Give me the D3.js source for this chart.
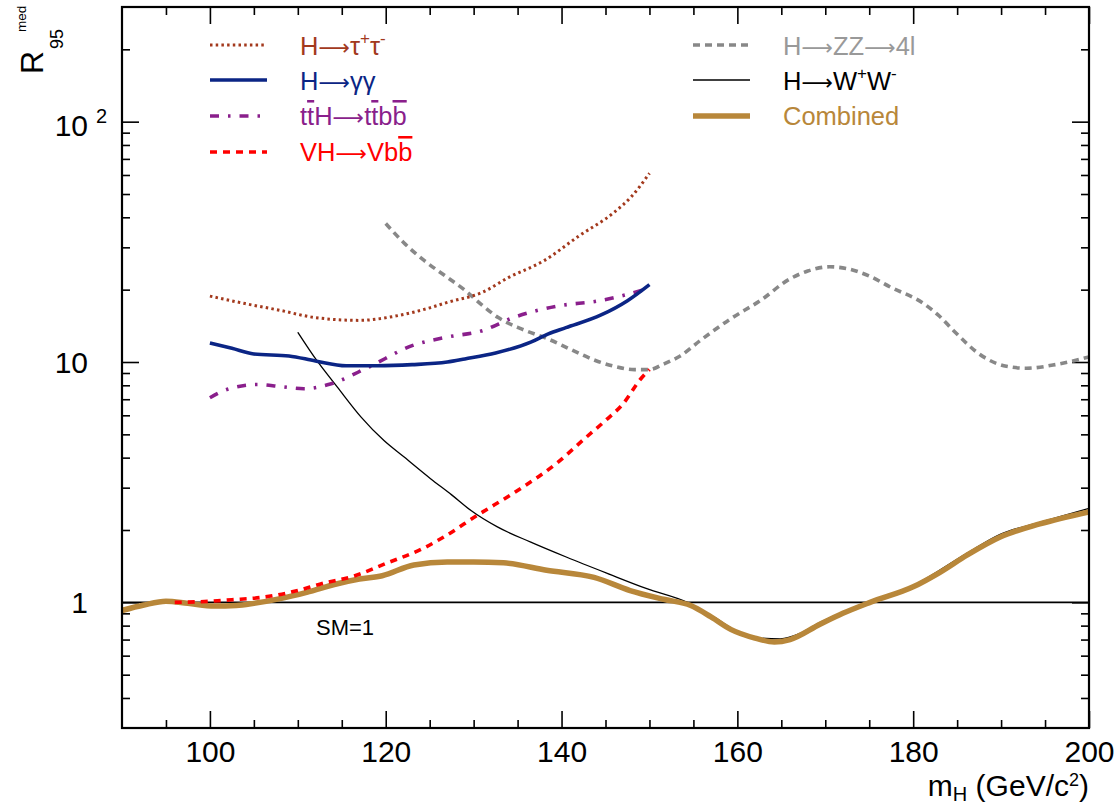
<!DOCTYPE html>
<html>
<head>
<meta charset="utf-8">
<script src="https://cdn.jsdelivr.net/npm/d3@7"></script>
<style>
  html, body { margin: 0; padding: 0; background: #fff; }
  svg { display: block; }
</style>
</head>
<body>
<svg id="chart" width="1119" height="806"></svg>
<script>
// ---------------- DATA ----------------
const tautauM = [100, 104, 108, 112, 117, 121, 125, 127, 131, 134, 138, 142, 146, 148, 150];
const tautauR = [18.8, 17.5, 16.4, 15.3, 14.9, 15.5, 16.8, 17.7, 19.5, 22.5, 26.4, 33.5, 42, 49, 61];

const gagaM = [100, 102.5, 105, 109, 112, 115.5, 119, 123, 127, 129, 132.5, 136.5, 138.5, 140.5, 144.5, 147.5, 150];
const gagaR = [12.0, 11.4, 10.8, 10.6, 10.1, 9.65, 9.65, 9.75, 10.0, 10.3, 10.9, 12.1, 13.1, 13.9, 15.7, 18.0, 21.0];

const tthM = [100, 102, 105.5, 108, 110.7, 113.7, 118, 123, 127, 131, 134.5, 137, 140, 144, 147, 150];
const tthR = [7.1, 7.7, 8.06, 7.9, 7.74, 8.1, 9.5, 11.7, 12.7, 13.5, 15.3, 16.3, 17.2, 17.9, 18.9, 20.3];

const vhM = [96, 100, 102.5, 106, 110, 112.5, 116.5, 120, 124.3, 126.6, 130.4, 135, 139.6, 142.6, 145, 147, 149, 150];
const vhR = [1.0, 1.01, 1.025, 1.05, 1.12, 1.19, 1.29, 1.45, 1.68, 1.87, 2.30, 2.92, 3.83, 4.79, 5.71, 6.7, 8.5, 9.3];

const zzM = [120, 122, 124.4, 127, 129, 131, 132.8, 135.5, 138.4, 141, 144, 146, 148.3, 150, 151.6, 153.5, 155.8, 159.2, 162.6, 166, 168, 170.5, 172.4, 175, 177.4, 181.2, 183, 184.6, 188, 190.6, 192.9, 196.3, 200];
const zzR = [37.7, 31.5, 26.4, 22.5, 19.9, 17.2, 15.3, 13.7, 12.5, 11.3, 10.1, 9.6, 9.3, 9.3, 9.8, 10.6, 12.3, 15.1, 18.0, 22.2, 23.9, 24.9, 24.5, 22.8, 20.5, 17.5, 15.5, 13.5, 10.5, 9.6, 9.42, 9.77, 10.5];

const wwM = [110, 112.2, 114.5, 117.2, 119.8, 122.1, 125.1, 127.5, 129.7, 132.7, 136.5, 140.6, 145.2, 149.7, 154.3, 157.3, 160.4, 162.5, 164.9, 167.2, 169.4, 175.1, 180, 186.1, 189.9, 194.4, 200];
const wwR = [13.3, 10.1, 7.86, 5.9, 4.71, 4.02, 3.27, 2.8, 2.41, 2.06, 1.78, 1.54, 1.32, 1.14, 1.0, 0.87, 0.745, 0.71, 0.705, 0.745, 0.825, 1.01, 1.175, 1.6, 1.92, 2.15, 2.46];

const combM = [90, 92.5, 95, 97.5, 100.5, 103, 105, 108, 111, 114.5, 117, 119.6, 123.2, 127, 130, 133.4, 138.3, 143.7, 147.8, 151.6, 154.7, 157, 159.3, 162, 164.2, 166, 169.4, 172, 175.1, 180, 183, 186.1, 189.9, 194.4, 200];
const combR = [0.925, 0.975, 1.01, 0.99, 0.965, 0.97, 0.99, 1.036, 1.10, 1.195, 1.25, 1.29, 1.43, 1.47, 1.47, 1.46, 1.36, 1.27, 1.12, 1.03, 0.97, 0.87, 0.77, 0.71, 0.684, 0.70, 0.81, 0.90, 1.0, 1.16, 1.33, 1.57, 1.87, 2.12, 2.38];

const xMajorTicks = [100, 120, 140, 160, 180, 200];
const xMinorTicks = [95, 105, 110, 115, 125, 130, 135, 145, 150, 155, 165, 170, 175, 185, 190, 195];
const yMajorTicks = [1, 10, 100];
const yMinorTicks = [0.4, 0.5, 0.6, 0.7, 0.8, 0.9, 2, 3, 4, 5, 6, 7, 8, 9, 20, 30, 40, 50, 60, 70, 80, 90, 200];
const smLevel = 1;

// ---------------- LAYOUT ----------------
const FONT = "'Liberation Sans', Arial, Helvetica, sans-serif";
const ARROWFONT = "'DejaVu Sans', sans-serif";
const L = 122, R = 1089, T = 7, B = 728;

const svg = d3.select("#chart");
const x = d3.scaleLinear().domain([90, 200]).range([L, R]);
const y = d3.scaleLog().domain([0.3, 300]).range([B, T]);

svg.append("defs").append("clipPath").attr("id", "clip")
  .append("rect").attr("x", L).attr("y", T).attr("width", R - L).attr("height", B - T);

const line = d3.line().x(d => x(d[0])).y(d => y(d[1])).curve(d3.curveMonotoneX);
const zip = (a, b) => a.map((v, i) => [v, b[i]]);

// ---------------- AXES (ticks inward on all sides) ----------------
function styleAxis(g, w) {
  g.select(".domain").remove();
  g.selectAll(".tick line").attr("stroke", "#000").attr("stroke-width", w);
}
const noLabel = () => "";
svg.append("g").attr("transform", `translate(0,${B})`)
  .call(d3.axisBottom(x).tickValues(xMinorTicks).tickSize(-8).tickFormat(noLabel))
  .call(g => styleAxis(g, 1.6));
svg.append("g").attr("transform", `translate(0,${B})`)
  .call(d3.axisBottom(x).tickValues(xMajorTicks).tickSize(-17).tickPadding(13).tickFormat(d3.format("d")))
  .call(g => styleAxis(g, 1.6))
  .call(g => g.selectAll(".tick text").attr("font-family", FONT).attr("font-size", 30).attr("fill", "#000"));
svg.append("g").attr("transform", `translate(0,${T})`)
  .call(d3.axisTop(x).tickValues(xMinorTicks).tickSize(-8).tickFormat(noLabel))
  .call(g => styleAxis(g, 1.6));
svg.append("g").attr("transform", `translate(0,${T})`)
  .call(d3.axisTop(x).tickValues(xMajorTicks).tickSize(-17).tickFormat(noLabel))
  .call(g => styleAxis(g, 1.6));

svg.append("g").attr("transform", `translate(${L},0)`)
  .call(d3.axisLeft(y).tickValues(yMinorTicks).tickSize(-8).tickFormat(noLabel))
  .call(g => styleAxis(g, 1.6));
svg.append("g").attr("transform", `translate(${L},0)`)
  .call(d3.axisLeft(y).tickValues(yMajorTicks).tickSize(-17).tickFormat(noLabel))
  .call(g => styleAxis(g, 1.6));
svg.append("g").attr("transform", `translate(${R},0)`)
  .call(d3.axisRight(y).tickValues(yMinorTicks).tickSize(-8).tickFormat(noLabel))
  .call(g => styleAxis(g, 1.6));
svg.append("g").attr("transform", `translate(${R},0)`)
  .call(d3.axisRight(y).tickValues(yMajorTicks).tickSize(-17).tickFormat(noLabel))
  .call(g => styleAxis(g, 1.6));

// y tick labels
const yl = svg.append("g").attr("font-family", FONT).attr("fill", "#000");
yl.append("text").attr("x", 88).attr("y", y(1) + 10.5).attr("text-anchor", "end").attr("font-size", 30).text("1");
yl.append("text").attr("x", 88).attr("y", y(10) + 10.5).attr("text-anchor", "end").attr("font-size", 30).text("10");
yl.append("text").attr("x", 88).attr("y", y(100) + 14).attr("text-anchor", "end").attr("font-size", 30).text("10");
yl.append("text").attr("x", 96).attr("y", y(100) + 1).attr("font-size", 20).text("2");

// axis titles
const xt = svg.append("text").attr("font-family", FONT).attr("font-size", 30).attr("fill", "#000")
  .attr("x", R).attr("y", 796).attr("text-anchor", "end");
xt.append("tspan").text("m");
xt.append("tspan").attr("font-size", 20).attr("dy", 5).text("H");
xt.append("tspan").attr("dy", -5).text(" (GeV/c");
xt.append("tspan").attr("font-size", 18).attr("dy", -10).text("2");
xt.append("tspan").attr("dy", 10).text(")");

svg.append("text").attr("font-family", FONT).attr("font-size", 32).attr("fill", "#000")
  .attr("transform", "translate(43,74) rotate(-90)").text("R");
svg.append("text").attr("font-family", FONT).attr("font-size", 18).attr("fill", "#000")
  .attr("transform", "translate(63,49) rotate(-90)").text("95");
svg.append("text").attr("font-family", FONT).attr("font-size", 13.5).attr("fill", "#000")
  .attr("transform", "translate(26,32) rotate(-90)").text("med");

// ---------------- SERIES ----------------
const plot = svg.append("g").attr("clip-path", "url(#clip)");

plot.append("line").attr("x1", L).attr("x2", R).attr("y1", y(smLevel)).attr("y2", y(smLevel))
  .attr("stroke", "#000").attr("stroke-width", 1.8);

const series = [
  {m: wwM, r: wwR, color: "#000000", w: 1.3, dash: null},
  {m: combM, r: combR, color: "#b8873a", w: 5.5, dash: null},
  {m: zzM, r: zzR, color: "#888888", w: 3.6, dash: "7,5"},
  {m: vhM, r: vhR, color: "#ff0000", w: 3.6, dash: "7,6"},
  {m: tthM, r: tthR, color: "#8a1f8c", w: 3.6, dash: "9,9,2.5,9"},
  {m: gagaM, r: gagaR, color: "#0b2585", w: 3.6, dash: null},
  {m: tautauM, r: tautauR, color: "#a3391d", w: 3, dash: "2.5,3.2"}
];
series.forEach(s => {
  plot.append("path").datum(zip(s.m, s.r))
    .attr("d", line).attr("fill", "none")
    .attr("stroke", s.color).attr("stroke-width", s.w)
    .attr("stroke-dasharray", s.dash);
});

svg.append("text").attr("font-family", FONT).attr("font-size", 22).attr("fill", "#000")
  .attr("x", 316).attr("y", 635).text("SM=1");

svg.append("rect").attr("x", L).attr("y", T).attr("width", R - L).attr("height", B - T)
  .attr("fill", "none").attr("stroke", "#000").attr("stroke-width", 2.2);

// ---------------- LEGEND ----------------
const leg = svg.append("g").attr("font-family", FONT).attr("font-size", 25.5);
function sample(x1, x2, yy, color, w, dash) {
  leg.append("line").attr("x1", x1).attr("x2", x2).attr("y1", yy).attr("y2", yy)
    .attr("stroke", color).attr("stroke-width", w).attr("stroke-dasharray", dash);
}
sample(210, 267, 45, "#a3391d", 3, "2.5,3.2");
sample(210, 267, 80, "#0b2585", 3.6, null);
sample(210, 267, 116, "#8a1f8c", 3.6, "9,9,2.5,9");
sample(210, 267, 152, "#ff0000", 3.6, "7,6");
sample(693, 750, 45, "#888888", 3.6, "7,5");
sample(693, 750, 80, "#000000", 1.3, null);
sample(693, 750, 116, "#b8873a", 5.5, null);

function arrow(t) {
  t.append("tspan").attr("font-family", ARROWFONT).attr("font-size", 22).text("\u27f6");
}
let t;
t = leg.append("text").attr("x", 300).attr("y", 55).attr("fill", "#a3391d");
t.append("tspan").text("H"); arrow(t);
t.append("tspan").text("\u03c4");
t.append("tspan").attr("font-size", 17).attr("dy", -11).text("+");
t.append("tspan").attr("dy", 11).text("\u03c4");
t.append("tspan").attr("font-size", 17).attr("dy", -11).text("-");

t = leg.append("text").attr("x", 300).attr("y", 90).attr("fill", "#0b2585");
t.append("tspan").text("H"); arrow(t); t.append("tspan").text("\u03b3\u03b3");

t = leg.append("text").attr("x", 300).attr("y", 125).attr("fill", "#8a1f8c");
t.append("tspan").text("t");
t.append("tspan").style("text-decoration", "overline").text("t");
t.append("tspan").text("H"); arrow(t);
t.append("tspan").text("t");
t.append("tspan").style("text-decoration", "overline").text("t");
t.append("tspan").text("b");
t.append("tspan").style("text-decoration", "overline").text("b");

t = leg.append("text").attr("x", 300).attr("y", 161).attr("fill", "#ff0000");
t.append("tspan").text("VH"); arrow(t);
t.append("tspan").text("Vb");
t.append("tspan").style("text-decoration", "overline").text("b");

t = leg.append("text").attr("x", 783).attr("y", 55).attr("fill", "#999999");
t.append("tspan").text("H"); arrow(t); t.append("tspan").text("ZZ"); arrow(t); t.append("tspan").text("4l");

t = leg.append("text").attr("x", 783).attr("y", 90).attr("fill", "#000");
t.append("tspan").text("H"); arrow(t);
t.append("tspan").text("W");
t.append("tspan").attr("font-size", 17).attr("dy", -11).text("+");
t.append("tspan").attr("dy", 11).text("W");
t.append("tspan").attr("font-size", 17).attr("dy", -11).text("-");

leg.append("text").attr("x", 783).attr("y", 125).attr("fill", "#b8873a").text("Combined");
</script>
</body>
</html>
